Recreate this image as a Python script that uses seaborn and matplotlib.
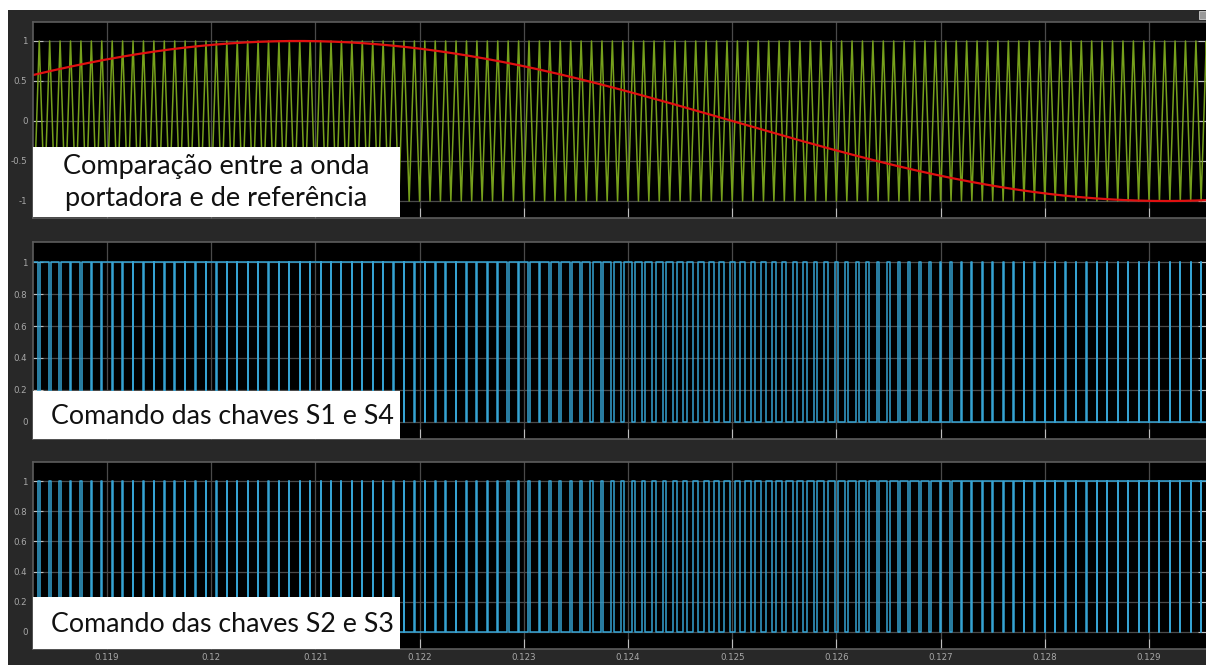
import numpy as np
import pandas as pd
import matplotlib
matplotlib.use("Agg")
import matplotlib.pyplot as plt
import seaborn as sns
from matplotlib.patches import Rectangle

# ---------------- data ----------------
T_LIMITS = [0.11829, 0.12957]          # visible time window (s)
CARRIER_PERIOD = 1.0e-4                # triangle carrier period (10 kHz)
CARRIER_LEVELS = [-1.0, 1.0]           # carrier trough / peak
REFERENCE_FREQ_HZ = 60.0               # sinusoidal reference
REFERENCE_AMPLITUDE = 1.0
X_TICKS = [0.119, 0.120, 0.121, 0.122, 0.123, 0.124, 0.125, 0.126, 0.127, 0.128, 0.129]
X_TICK_LABELS = ["0.119", "0.12", "0.121", "0.122", "0.123", "0.124",
                 "0.125", "0.126", "0.127", "0.128", "0.129"]
Y_TICKS_TOP = [-1, -0.5, 0, 0.5, 1]
Y_TICK_LABELS_TOP = ["-1", "-0.5", "0", "0.5", "1"]
Y_TICKS_PWM = [0, 0.2, 0.4, 0.6, 0.8, 1]
Y_TICK_LABELS_PWM = ["0", "0.2", "0.4", "0.6", "0.8", "1"]
PANEL_LABELS = ["Comparação entre a onda\nportadora e de referência",
                "Comando das chaves S1 e S4",
                "Comando das chaves S2 e S3"]

# ---------------- signals ----------------
k0 = int(np.floor(T_LIMITS[0] / CARRIER_PERIOD)) - 1
k1 = int(np.ceil(T_LIMITS[1] / CARRIER_PERIOD)) + 1
vt, vy = [], []
for k in range(k0, k1 + 1):
    vt += [k * CARRIER_PERIOD, (k + 0.5) * CARRIER_PERIOD]
    vy += [CARRIER_LEVELS[0], CARRIER_LEVELS[1]]
carrier_df = pd.DataFrame({"t": vt, "y": vy})

t_ref = np.linspace(T_LIMITS[0] - 1e-4, T_LIMITS[1] + 1e-4, 3000)
ref_df = pd.DataFrame({"t": t_ref,
                       "y": REFERENCE_AMPLITUDE * np.sin(2 * np.pi * REFERENCE_FREQ_HZ * t_ref)})

tf = np.arange(T_LIMITS[0] - 1e-4, T_LIMITS[1] + 1e-4, 2e-8)
car_f = np.interp(tf, vt, vy)
ref_f = REFERENCE_AMPLITUDE * np.sin(2 * np.pi * REFERENCE_FREQ_HZ * tf)
s14 = (ref_f > car_f).astype(int)
chg = np.nonzero(np.diff(s14))[0] + 1
idx = np.concatenate([[0], chg, [len(tf) - 1]])
s14_df = pd.DataFrame({"t": tf[idx], "y": s14[idx]})
s23_df = pd.DataFrame({"t": tf[idx], "y": 1 - s14[idx]})

# ---------------- figure ----------------
W, H = 1206, 665
fig = plt.figure(figsize=(W / 100, H / 100), dpi=100)
fig.patch.set_facecolor("white")
fig.patches.append(Rectangle((8 / W, 0), 1 - 8 / W, 1 - 10 / H, transform=fig.transFigure,
                             facecolor="#282828", edgecolor="none", zorder=-10))

def fy(px):
    return 1 - px / H

ax_specs = [(22, 218, (-1.2125, 1.2375)), (242, 439, (-0.107, 1.126)), (462, 649, (-0.113, 1.126))]
axes = []
for top, bot, yl in ax_specs:
    ax = fig.add_axes([33 / W, fy(bot), (W - 33) / W + 0.002, (bot - top) / H])
    ax.set_facecolor("black")
    ax.set_xlim(T_LIMITS)
    ax.set_ylim(yl)
    ax.set_axisbelow(True)
    ax.grid(True, color="#4a4a4a", lw=0.9)
    for s in ax.spines.values():
        s.set_color("#5c5c5c")
        s.set_linewidth(1.2)
    ax.tick_params(direction="in", length=7, width=0.8, color="#bdbdbd",
                   labelcolor="#a8a8a8", labelsize=6.2, right=True, pad=4)
    ax.set_xticks(X_TICKS)
    axes.append(ax)

ax1, ax2, ax3 = axes
sns.lineplot(data=carrier_df, x="t", y="y", ax=ax1, color="#76a01c", lw=1.1,
             estimator=None, sort=False)
sns.lineplot(data=ref_df, x="t", y="y", ax=ax1, color="#e01010", lw=1.6,
             estimator=None, sort=False)
sns.lineplot(data=s14_df, x="t", y="y", ax=ax2, color="#35a2d2", lw=1.1,
             estimator=None, sort=False, drawstyle="steps-post")
sns.lineplot(data=s23_df, x="t", y="y", ax=ax3, color="#35a2d2", lw=1.1,
             estimator=None, sort=False, drawstyle="steps-post")

ax1.set_yticks(Y_TICKS_TOP, Y_TICK_LABELS_TOP)
for ax in (ax2, ax3):
    ax.set_yticks(Y_TICKS_PWM, Y_TICK_LABELS_PWM)
for ax in axes:
    ax.set_xlabel("")
    ax.set_ylabel("")
ax1.set_xticklabels([])
ax2.set_xticklabels([])
ax3.set_xticklabels(X_TICK_LABELS)
ax3.tick_params(axis="x", pad=3)
for ax in axes:
    ax.set_xlim(T_LIMITS)

# white label boxes
boxes = [(33, 400, 147, 217), (33, 400, 391, 439), (33, 400, 597, 649)]
for i, ((x0, x1, y0, y1), lab) in enumerate(zip(boxes, PANEL_LABELS)):
    fig.patches.append(Rectangle((x0 / W, fy(y1)), (x1 - x0) / W, (y1 - y0) / H,
                                 transform=fig.transFigure, facecolor="white",
                                 edgecolor="none", zorder=5))
    if i == 0:
        fig.text((x0 + x1) / 2 / W, fy((y0 + y1) / 2 + 0.5), lab, ha="center", va="center",
                 fontsize=19.5, family="Lato", color="#111111", zorder=6, linespacing=1.35)
    else:
        fig.text(51 / W, fy((y0 + y1) / 2 + 1), lab, ha="left", va="center",
                 fontsize=19.3, family="Lato", color="#111111", zorder=6)

# small scope icon top right
fig.patches.append(Rectangle((1199 / W, fy(19)), 7 / W, 8 / H, transform=fig.transFigure,
                             facecolor="#9a9a9a", edgecolor="#d0d0d0", lw=0.6, zorder=7))

fig.savefig("out.png", dpi=100, facecolor=fig.get_facecolor())
